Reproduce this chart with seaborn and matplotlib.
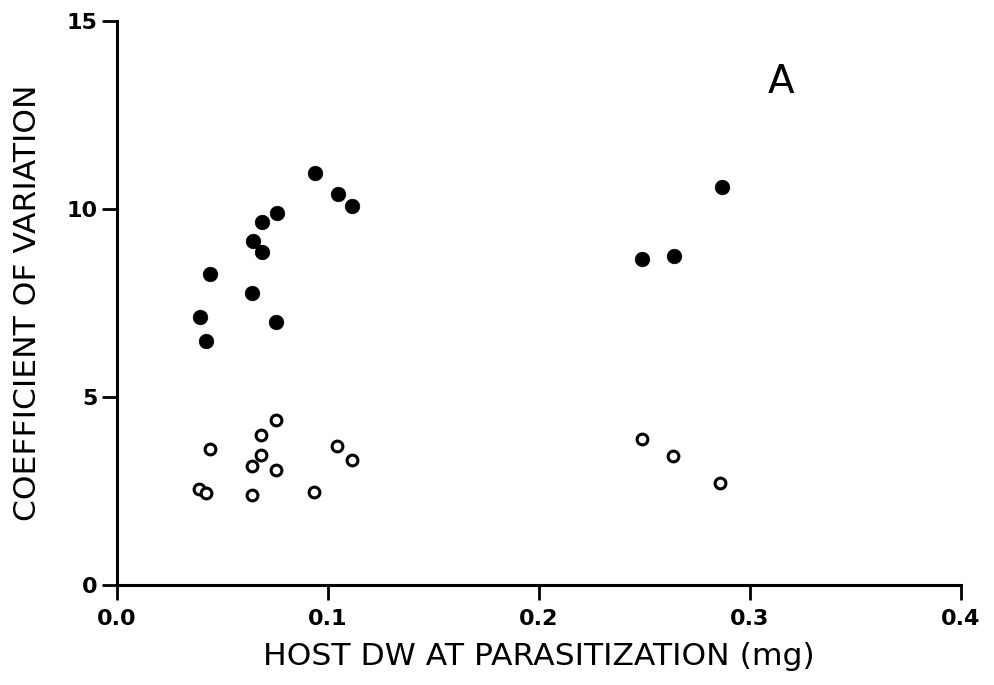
import matplotlib
matplotlib.use("Agg")
import matplotlib.pyplot as plt
import seaborn as sns
import pandas as pd

# Filled circles
filled_x = [0.0393, 0.0422, 0.0441, 0.0640, 0.0645, 0.0687, 0.0687, 0.0758, 0.0754,
            0.0938, 0.1047, 0.1114, 0.2488, 0.2640, 0.2867]
filled_y = [7.13, 6.49, 8.27, 7.77, 9.15, 8.86, 9.65, 9.89, 6.99,
            10.96, 10.40, 10.08, 8.67, 8.75, 10.59]
# Open circles
open_x = [0.0389, 0.0422, 0.0441, 0.0640, 0.0640, 0.0682, 0.0682, 0.0754, 0.0754,
          0.0934, 0.1043, 0.1114, 0.2488, 0.2635, 0.2858]
open_y = [2.55, 2.45, 3.62, 2.39, 3.16, 3.46, 3.99, 4.39, 3.06,
          2.47, 3.70, 3.32, 3.88, 3.43, 2.71]

x_ticks = [0.0, 0.1, 0.2, 0.3, 0.4]
x_tick_labels = ["0.0", "0.1", "0.2", "0.3", "0.4"]
y_ticks = [0, 5, 10, 15]
y_tick_labels = ["0", "5", "10", "15"]

df_f = pd.DataFrame({"x": filled_x, "y": filled_y})
df_o = pd.DataFrame({"x": open_x, "y": open_y})

sns.set_style("ticks")
plt.rcParams["font.family"] = ["DejaVu Sans"]
plt.rcParams["text.color"] = "black"
plt.rcParams["axes.labelcolor"] = "black"
plt.rcParams["xtick.color"] = "black"
plt.rcParams["ytick.color"] = "black"

fig = plt.figure(figsize=(9.95, 6.85), dpi=100)
ax = fig.add_axes([0.1176, 0.146, 0.8482, 0.823])

sns.scatterplot(data=df_f, x="x", y="y", ax=ax, s=110, color="black",
                edgecolor="black", linewidth=0.5, legend=False, zorder=3)
sns.scatterplot(data=df_o, x="x", y="y", ax=ax, s=60, facecolor="white",
                edgecolor="black", linewidth=2.2, legend=False, zorder=3)

ax.set_xlim(0.0, 0.4)
ax.set_ylim(0, 15)
ax.set_xticks(x_ticks)
ax.set_xticklabels(x_tick_labels, fontsize=16, fontweight="bold")
ax.set_yticks(y_ticks)
ax.set_yticklabels(y_tick_labels, fontsize=16, fontweight="bold")
ax.tick_params(axis="both", direction="out", length=11, width=2, color="black")
ax.tick_params(axis="x", pad=6)
ax.tick_params(axis="y", pad=3)

for s in ["top", "right"]:
    ax.spines[s].set_visible(False)
for s in ["left", "bottom"]:
    ax.spines[s].set_linewidth(2.2)
    ax.spines[s].set_color("black")

ax.set_xlabel("HOST DW AT PARASITIZATION (mg)", fontsize=22.6, va="top")
ax.xaxis.set_label_coords(0.5, -0.1011)
ax.set_ylabel("COEFFICIENT OF VARIATION", fontsize=22.6, va="center")
ax.yaxis.set_label_coords(-0.106, 0.5)

ax.text(0.3147, 13.38, "A", fontsize=28, ha="center", va="center")

fig.savefig("out.png", dpi=100)
